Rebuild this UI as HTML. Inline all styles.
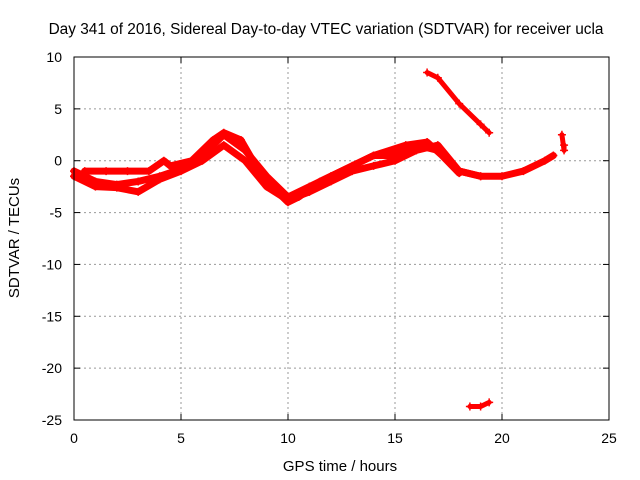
<!DOCTYPE html>
<html><head><meta charset="utf-8"><style>
body{margin:0;background:#fff;}
svg{display:block;font-family:"Liberation Sans",sans-serif;}
</style></head><body>
<svg id="chart" width="640" height="480">
<rect width="640" height="480" fill="#fff"/>
<text x="326" y="34" font-size="15.4" text-anchor="middle">Day 341 of 2016, Sidereal Day-to-day VTEC variation (SDTVAR) for receiver ucla</text>
<text x="340" y="471" font-size="15" text-anchor="middle">GPS time / hours</text>
<text transform="translate(19,238) rotate(-90)" font-size="15" text-anchor="middle">SDTVAR / TECUs</text>
<g id="grid"></g><g id="axes"></g><g id="series"></g>
<rect x="74" y="57" width="535" height="363" fill="none" stroke="#000" stroke-width="1"/>
</svg>
<script>
const xTicks=[0,5,10,15,20,25];
const yTicks=[10,5,0,-5,-10,-15,-20,-25];
const trackA=[[0,-1],[1,-2],[2,-2.3],[3,-2],[4,-1.5],[5,-0.8],[6,0.5],[7,2.5],[8,1],[9,-1.5],[10,-3.5],[11,-2.5],[12,-1.5],[13,-0.5],[14,0.5],[15,0.5],[16,1.5],[17,1],[18,-1],[19,-1.5],[20,-1.5],[21,-1],[22,0],[22.4,0.5]];
const trackB=[[0,-1.5],[1,-2.5],[2,-2.6],[3,-3],[4,-1.8],[5,-1],[6,0],[7,1.5],[8,0],[9,-2.5],[10,-3.8],[11,-3],[12,-2],[13,-1],[14,-0.5],[15,0],[16,1],[17,1.5],[18,-1],[19,-1.5]];
const trackC=[[0.5,-1],[1.5,-1],[2.5,-1],[3.5,-1],[4.2,0],[4.5,-0.5],[5.5,0],[6.5,2],[7,2.7],[7.8,2],[8.5,-0.5],[9.5,-3],[10,-4],[10.5,-3.5],[11.5,-2],[13,-0.5],[14,0.5],[15.5,1.5],[16.5,1.8],[17.2,0.5],[18,-1.2]];
const trackD=[[16.5,8.5],[17,8],[18,5.5],[19,3.5],[19.4,2.7]];
const trackE=[[18.5,-23.7],[19,-23.7],[19.4,-23.3]];
const trackF=[[22.8,2.5],[22.9,1],[22.9,1.5]];
const NS="http://www.w3.org/2000/svg";
const X=v=>74+v*21.4, Y=v=>57+(10-v)*(363/35);
function mk(t,a,p){const e=document.createElementNS(NS,t);for(const k in a)e.setAttribute(k,a[k]);p.appendChild(e);return e;}
const grid=document.getElementById('grid'),axes=document.getElementById('axes'),ser=document.getElementById('series');
xTicks.forEach(t=>{
 if(t>0&&t<25){const l=mk('line',{x1:X(t),x2:X(t),y1:57,y2:420,stroke:'#999','stroke-dasharray':'2,3'},grid);
 }
 const tx=mk('text',{x:X(t),y:443,'font-size':14,'text-anchor':'middle'},axes);tx.textContent=t;
 
 mk('line',{x1:X(t),x2:X(t),y1:420,y2:414,stroke:'#000'},axes);mk('line',{x1:X(t),x2:X(t),y1:57,y2:63,stroke:'#000'},axes);
});
yTicks.forEach(t=>{
 if(t<10&&t>-25){const l=mk('line',{x1:74,x2:609,y1:Y(t),y2:Y(t),stroke:'#999','stroke-dasharray':'2,3'},grid);
 }
 const tx=mk('text',{x:62,y:Y(t)+5,'font-size':14,'text-anchor':'end'},axes);tx.textContent=t;
 
 mk('line',{x1:74,x2:80,y1:Y(t),y2:Y(t),stroke:'#000'},axes);mk('line',{x1:609,x2:603,y1:Y(t),y2:Y(t),stroke:'#000'},axes);
});
[trackA,trackB,trackC,trackD,trackE,trackF].forEach((tr,i)=>{
 const p=mk('polyline',{points:tr.map(d=>X(d[0])+','+Y(d[1])).join(' '),fill:'none',stroke:'#f00','stroke-width':i<3?7:5,'stroke-linejoin':'round','stroke-linecap':'round'},ser);
 
 
 tr.forEach(d=>{const m=mk('path',{d:`M${X(d[0])-4},${Y(d[1])}h8M${X(d[0])},${Y(d[1])-4}v8`,stroke:'#f00','stroke-width':1.5},ser);
  
  });
});
</script>
</body></html>
